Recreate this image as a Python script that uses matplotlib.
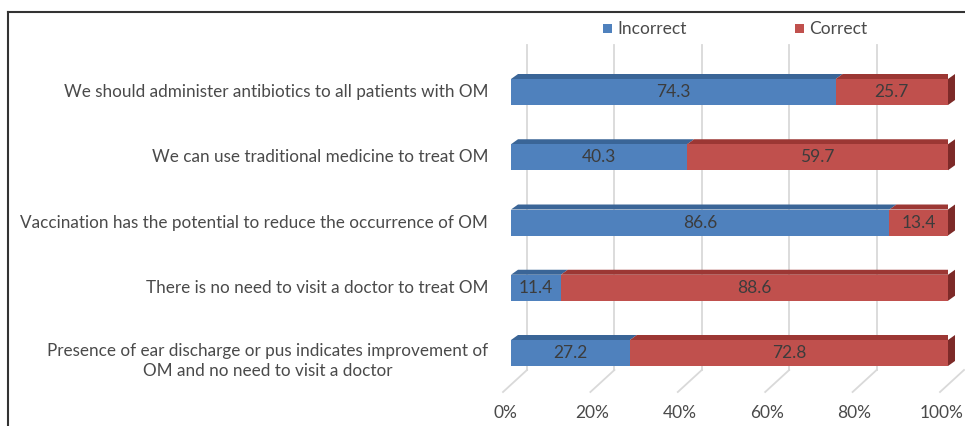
import matplotlib.pyplot as plt
from matplotlib.patches import Rectangle, Polygon
from matplotlib.lines import Line2D

plt.rcParams['font.family'] = ['Lato', 'DejaVu Sans']

statements = [
    'We should administer antibiotics to all patients with OM',
    'We can use traditional medicine to treat OM',
    'Vaccination has the potential to reduce the occurrence of OM',
    'There is no need to visit a doctor to treat OM',
    'Presence of ear discharge or pus indicates improvement of\nOM and no need to visit a doctor',
]
incorrect = [74.3, 40.3, 86.6, 11.4, 27.2]
correct = [25.7, 59.7, 13.4, 88.6, 72.8]
ticks = [0, 20, 40, 60, 80, 100]

BLUE, BLUE_TOP = '#4f81bd', '#3a6597'
RED, RED_TOP, RED_SIDE = '#c0504d', '#9c3734', '#7d2a28'
TXT = '#4a4a4a'

W, H = 965, 426
fig = plt.figure(figsize=(W / 100, H / 100), dpi=100)

# axes placed so that 0% sits at x=511px and 100% at x=948px
x0, x1 = 511, 948
ytop, ybot = 40, 400
ax = fig.add_axes([x0 / W, (H - ybot) / H, (x1 - x0) / W, (ybot - ytop) / H])
c0, step = 92, 65.25          # pixel centre of first bar, spacing
ax.set_xlim(0, 100)
ax.set_ylim((ybot - c0) / step, (ytop - c0) / step)
ax.axis('off')

pxx = 100 / (x1 - x0)   # data units per pixel in x


def py(p):
    return (p - c0) / step


dx, dy = 7 * pxx, 5 / step       # bar depth
wx = 16 * pxx                    # back wall offset

# back gridlines and floor lines
for t in ticks:
    ax.add_line(Line2D([t + wx, t + wx], [py(45), py(370)], color='#d9d9d9', lw=1.3, zorder=0))
    ax.add_line(Line2D([t - 8 * pxx, t + wx], [py(392), py(370)], color='#d9d9d9', lw=1.3,
                       zorder=0, clip_on=False))
    ax.text(t - 6 * pxx, py(413), f'{t}%', ha='center', va='center', fontsize=12.5,
            color=TXT, clip_on=False)

h = 26 / step
for i, (a, b) in enumerate(zip(incorrect, correct)):
    top, bot = i - h / 2, i + h / 2
    for left, w, face, tcol in [(0, a, BLUE, BLUE_TOP), (a, b, RED, RED_TOP)]:
        ax.add_patch(Polygon([(left, top), (left + dx, top - dy), (left + w + dx, top - dy),
                              (left + w, top)], closed=True, fc=tcol, ec='none', zorder=2))
        ax.add_patch(Rectangle((left, top), w, h, fc=face, ec='none', zorder=3))
        ax.text(left + w / 2, i, f'{w:.1f}', ha='center', va='center', fontsize=12.5,
                color='#3c3c3c', zorder=4)
    r = a + b
    ax.add_patch(Polygon([(r, top), (r + dx, top - dy), (r + dx, bot - dy), (r, bot)],
                         closed=True, fc=RED_SIDE, ec='none', zorder=2, clip_on=False))
    ax.text(-23 * pxx, i + (0.12 if '\n' in statements[i] else 0), statements[i],
            ha='right', va='center', multialignment='center', fontsize=12.3, color=TXT,
            linespacing=1.35, clip_on=False)

# legend
for xs, col, lab in [(603, BLUE, 'Incorrect'), (795, RED, 'Correct')]:
    fig.patches.append(Rectangle((xs / W, (H - 33) / H), 9 / W, 9 / H, fc=col, ec='none',
                                 transform=fig.transFigure))
    fig.text((xs + 14) / W, (H - 29) / H, lab, ha='left', va='center', fontsize=12.5, color=TXT)

# frame lines
fig.add_artist(Line2D([8 / W, 1], [(H - 12) / H, (H - 12) / H], color='#333333', lw=1.5))
fig.add_artist(Line2D([8 / W, 8 / W], [0, (H - 12) / H], color='#333333', lw=1.5))

fig.savefig('out.png', dpi=100)
